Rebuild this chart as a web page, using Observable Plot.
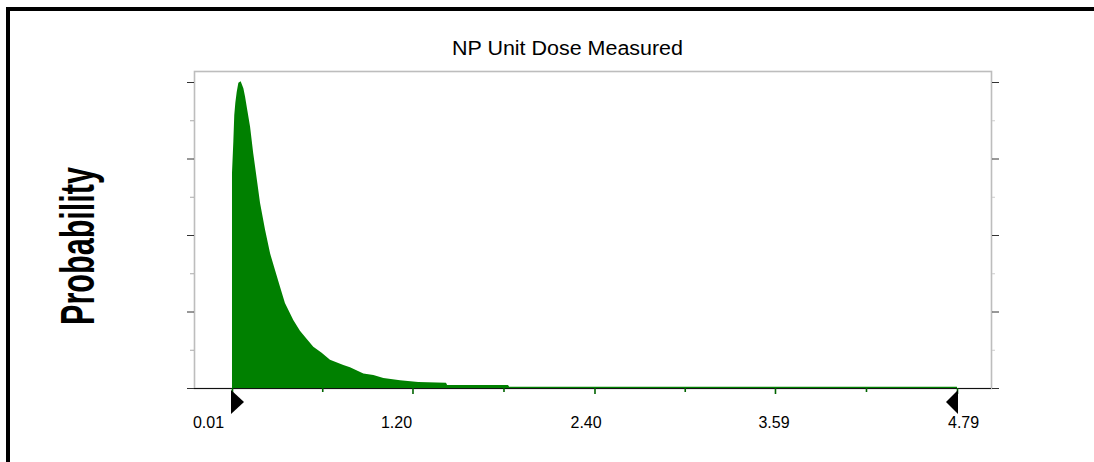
<!DOCTYPE html>
<html>
<head>
<meta charset="utf-8">
<script src="https://cdn.jsdelivr.net/npm/d3@7"></script>
<script src="https://cdn.jsdelivr.net/npm/@observablehq/plot@0.6"></script>
<style>
  html, body { margin: 0; padding: 0; background: #fff; }
  #wrap { position: relative; width: 1094px; height: 462px; overflow: hidden; background: #fff; }
  #chart { position: absolute; left: 0; top: 0; }
  #overlay { position: absolute; left: 0; top: 0; pointer-events: none; }
</style>
</head>
<body>
<div id="wrap">
  <div id="chart"></div>
  <svg id="overlay" width="1094" height="462"></svg>
</div>
<script>
// ---- data ----
const title = "NP Unit Dose Measured";
const yTitle = "Probability";
const doseValues = [0.010, 0.019, 0.025, 0.032, 0.041, 0.052, 0.067, 0.085, 0.096, 0.111, 0.129, 0.150, 0.177, 0.195, 0.228, 0.261, 0.294, 0.327, 0.359, 0.414, 0.458, 0.503, 0.546, 0.601, 0.656, 0.744, 0.788, 0.876, 0.942, 1.008, 1.118, 1.238, 1.421, 1.428, 1.830, 1.837, 4.790];
const probValues = [0.0281, 0.0323, 0.0357, 0.0373, 0.0387, 0.0399, 0.0401, 0.0392, 0.0381, 0.0363, 0.0342, 0.0307, 0.0268, 0.0242, 0.0207, 0.0176, 0.0154, 0.0132, 0.0111, 0.0089, 0.0075, 0.0064, 0.0054, 0.0046, 0.0037, 0.0030, 0.0027, 0.0019, 0.0017, 0.0013, 0.0010, 0.0008, 0.0007, 0.0004, 0.0004, 0.00015, 0.00015];
const xTickValues = [0.01, 1.20, 2.40, 3.59, 4.79];
const xTickLabels = ["0.01", "1.20", "2.40", "3.59", "4.79"];
const xMinorTicks = [0.605, 1.80, 2.995, 4.19];
const yMajorTicks = [0, 0.01, 0.02, 0.03, 0.04];
const yMinorTicks = [0.005, 0.015, 0.025, 0.035];
const lowerBound = 0.01, upperBound = 4.79;

// ---- build ----
const data = doseValues.map((x, i) => ({x, y: probValues[i]}));
const labels = xTickValues.map((v, i) => ({v, t: xTickLabels[i]}));
// tick labels in the reference are spread slightly wider than the ticks
const labelNudge = d3.scaleLinear().domain([0.01, 4.79]).range([-0.148, 4.830]);

const rightTri = { draw(ctx) { ctx.moveTo(-1.5, -12); ctx.lineTo(11.5, 0); ctx.lineTo(-1.5, 12); ctx.closePath(); } };
const leftTri  = { draw(ctx) { ctx.moveTo(0.5, -12); ctx.lineTo(-11.5, 0); ctx.lineTo(0.5, 12); ctx.closePath(); } };

const plot = Plot.plot({
  width: 1094,
  height: 462,
  marginLeft: 194,
  marginRight: 103,
  marginTop: 71,
  marginBottom: 74,
  style: { background: "transparent", fontFamily: "'Liberation Sans', Arial, sans-serif", overflow: "visible" },
  x: { domain: [-0.2405, 5.0142] },
  y: { domain: [0, 0.04144] },
  marks: [
    Plot.frame({ stroke: "#bdbdbd", strokeWidth: 1.6 }),
    Plot.areaY(data, { x: "x", y: "y", fill: "#008000", curve: "linear" }),
    Plot.ruleY([0], { stroke: "#111", strokeWidth: 1.2 }),
    Plot.axisY({ anchor: "left", ticks: yMajorTicks, tickSize: 7, stroke: "#333", tickFormat: () => "", label: null }),
    Plot.axisY({ anchor: "left", ticks: yMinorTicks, tickSize: 4, stroke: "#aaa", tickFormat: () => "", label: null }),
    Plot.axisY({ anchor: "right", ticks: yMajorTicks, tickSize: 7, stroke: "#333", tickFormat: () => "", label: null }),
    Plot.axisY({ anchor: "right", ticks: yMinorTicks, tickSize: 3, stroke: "#ccc", tickFormat: () => "", label: null }),
    Plot.axisX({ anchor: "bottom", ticks: xTickValues, tickSize: 6, stroke: "#006400", strokeWidth: 1.6, tickFormat: () => "", label: null }),
    Plot.axisX({ anchor: "bottom", ticks: xMinorTicks, tickSize: 4, stroke: "#006400", strokeWidth: 1.6, tickFormat: () => "", label: null }),
    Plot.text(labels, { x: d => labelNudge(d.v), y: 0, text: "t", dy: 34, fontSize: 16, fill: "#000", lineAnchor: "middle" }),
    Plot.dot([lowerBound], { x: d => d, y: 0, dy: 13.5, symbol: rightTri, fill: "#000", stroke: "none" }),
    Plot.dot([upperBound], { x: d => d, y: 0, dy: 13.5, symbol: leftTri, fill: "#000", stroke: "none" })
  ]
});
document.getElementById("chart").appendChild(plot);

// ---- overlay: border, title, y title ----
const ov = d3.select("#overlay");
ov.append("rect").attr("x", 6).attr("y", 7).attr("width", 1088).attr("height", 4).attr("fill", "#000");
ov.append("rect").attr("x", 6).attr("y", 7).attr("width", 4).attr("height", 455).attr("fill", "#000");
ov.append("text")
  .attr("x", 567.5).attr("y", 55)
  .attr("text-anchor", "middle")
  .attr("font-family", "'Liberation Sans', Arial, sans-serif")
  .attr("font-size", 19.5)
  .attr("textLength", 231).attr("lengthAdjust", "spacingAndGlyphs")
  .attr("fill", "#000")
  .text(title);
ov.append("text")
  .attr("transform", "translate(94,246) rotate(-90)")
  .attr("text-anchor", "middle")
  .attr("font-family", "'Liberation Sans', Arial, sans-serif")
  .attr("font-weight", "bold")
  .attr("font-size", 49)
  .attr("textLength", 158).attr("lengthAdjust", "spacingAndGlyphs")
  .attr("fill", "#000")
  .text(yTitle);
</script>
</body>
</html>
